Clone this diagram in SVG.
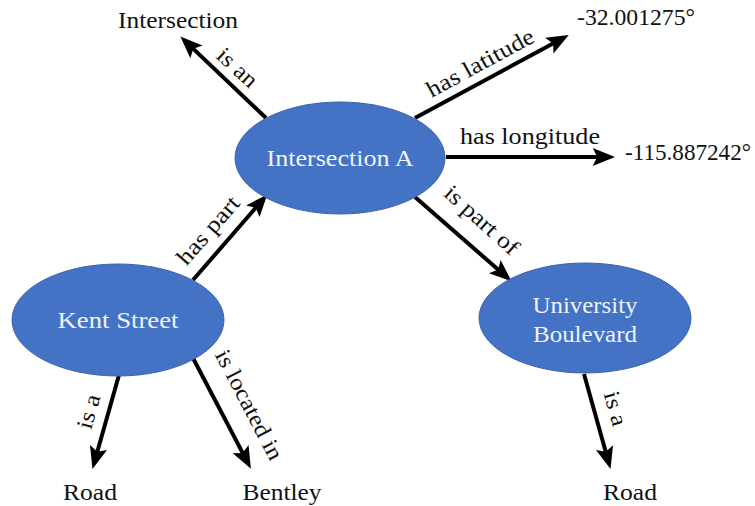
<svg xmlns="http://www.w3.org/2000/svg" width="755" height="506" viewBox="0 0 755 506">
  <defs>
    <marker id="head" markerUnits="userSpaceOnUse" markerWidth="24" markerHeight="20" refX="11" refY="0" viewBox="0 -9 21 18" orient="auto" overflow="visible">
      <path d="M0,-8 L20,0 L0,8 L4,0 Z" fill="#000"/>
    </marker>
    <style>
      .bg { fill: #ffffff; }
      .node { fill: #4472c4; stroke: #3a63ad; stroke-width: 1; }
      .edge { stroke: #000; stroke-width: 4; fill: none; marker-end: url(#head); }
      text { font-family: "Liberation Serif", Tinos, "Nimbus Roman", "Nimbus Roman No9 L", FreeSerif, "Noto Serif", Times, "Times New Roman", "DejaVu Serif", Georgia, serif; font-size: 23px; fill: #111; }
      .in { fill: #eef2fa; text-anchor: middle; }
      .lbl { text-anchor: middle; }
    </style>
  </defs>
  <rect class="bg" x="0" y="0" width="755" height="506"/>

  <!-- connectors -->
  <g id="connectors">
    <line class="edge" x1="266" y1="118" x2="187.6" y2="43.4"/>
    <line class="edge" x1="415" y1="118" x2="560" y2="39.8"/>
    <line class="edge" x1="446" y1="157" x2="605" y2="157"/>
    <line class="edge" x1="415" y1="197" x2="504" y2="274.7"/>
    <line class="edge" x1="193" y1="280" x2="260.8" y2="202"/>
    <line class="edge" x1="119" y1="375" x2="95.2" y2="459.3"/>
    <line class="edge" x1="193" y1="358" x2="246.3" y2="459.9"/>
    <line class="edge" x1="584" y1="374" x2="607.8" y2="459.3"/>

    <!-- edge labels -->
    <text class="lbl" transform="translate(237,68) rotate(42.5)" x="0" y="7" textLength="47" lengthAdjust="spacingAndGlyphs">is an</text>
    <text class="lbl" transform="translate(482,66) rotate(-28.5)" x="0" y="4" textLength="119" lengthAdjust="spacingAndGlyphs">has latitude</text>
    <text class="lbl" x="530" y="144" textLength="140" lengthAdjust="spacingAndGlyphs">has longitude</text>
    <text class="lbl" transform="translate(480,222) rotate(41.8)" x="0" y="5" textLength="92" lengthAdjust="spacingAndGlyphs">is part of</text>
    <text class="lbl" transform="translate(210,232) rotate(-49)" x="0" y="5" textLength="83" lengthAdjust="spacingAndGlyphs">has part</text>
    <text class="lbl" transform="translate(90,412) rotate(-74)" x="0" y="6" textLength="35" lengthAdjust="spacingAndGlyphs">is a</text>
    <text class="lbl" transform="translate(247,406) rotate(62.4)" x="0" y="5" textLength="121" lengthAdjust="spacingAndGlyphs">is located in</text>
    <text class="lbl" transform="translate(614,409) rotate(74)" x="0" y="6" textLength="35" lengthAdjust="spacingAndGlyphs">is a</text>
  </g>

  <!-- resource nodes -->
  <g id="intersection-a">
    <ellipse class="node" cx="340" cy="158" rx="105" ry="56"/>
    <text class="in" x="340" y="166" textLength="147" lengthAdjust="spacingAndGlyphs">Intersection A</text>
  </g>
  <g id="kent-street">
    <ellipse class="node" cx="118" cy="320" rx="106" ry="56"/>
    <text class="in" x="118" y="328" textLength="121" lengthAdjust="spacingAndGlyphs">Kent Street</text>
  </g>
  <g id="university-boulevard">
    <ellipse class="node" cx="585" cy="318" rx="106" ry="55"/>
    <text class="in" x="585" y="313" textLength="105" lengthAdjust="spacingAndGlyphs">University</text>
    <text class="in" x="585" y="342" textLength="104" lengthAdjust="spacingAndGlyphs">Boulevard</text>
  </g>

  <!-- literal / class nodes -->
  <g id="intersection-class">
    <text class="lbl" x="178" y="28" textLength="120" lengthAdjust="spacingAndGlyphs">Intersection</text>
  </g>
  <g id="latitude-value">
    <text class="lbl" x="636" y="25" textLength="118" lengthAdjust="spacingAndGlyphs">-32.001275°</text>
  </g>
  <g id="longitude-value">
    <text class="lbl" x="688" y="160" textLength="126" lengthAdjust="spacingAndGlyphs">-115.887242°</text>
  </g>
  <g id="road-left">
    <text class="lbl" x="90" y="500" textLength="54" lengthAdjust="spacingAndGlyphs">Road</text>
  </g>
  <g id="bentley">
    <text class="lbl" x="282" y="500" textLength="79" lengthAdjust="spacingAndGlyphs">Bentley</text>
  </g>
  <g id="road-right">
    <text class="lbl" x="630" y="500" textLength="54" lengthAdjust="spacingAndGlyphs">Road</text>
  </g>
</svg>
